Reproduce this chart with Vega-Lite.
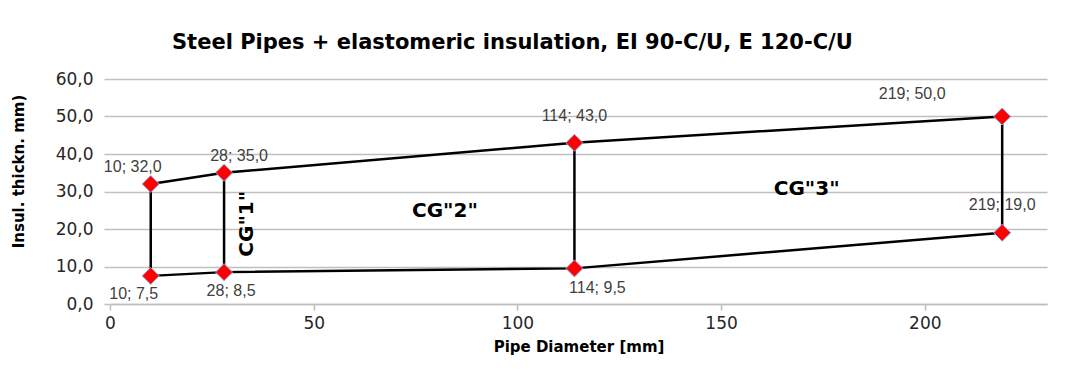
{
  "$schema": "https://vega.github.io/schema/vega-lite/v6.json",
  "width": 937,
  "height": 225,
  "autosize": {"type": "none"},
  "padding": {"left": 110, "top": 79, "right": 25, "bottom": 69},
  "background": "white",
  "title": {
    "text": "Steel Pipes + elastomeric insulation, EI 90-C/U, E 120-C/U",
    "anchor": "start",
    "frame": "group",
    "dx": 62,
    "offset": 17,
    "font": "DejaVu Sans",
    "fontSize": 21,
    "fontWeight": "bold",
    "color": "#000000"
  },
  "datasets": {
    "segs": [
      {"x": 10, "y": 32, "seg": "upper", "o": 1},
      {"x": 28, "y": 35, "seg": "upper", "o": 2},
      {"x": 114, "y": 43, "seg": "upper", "o": 3},
      {"x": 219, "y": 50, "seg": "upper", "o": 4},
      {"x": 10, "y": 7.5, "seg": "lower", "o": 1},
      {"x": 28, "y": 8.5, "seg": "lower", "o": 2},
      {"x": 114, "y": 9.5, "seg": "lower", "o": 3},
      {"x": 219, "y": 19, "seg": "lower", "o": 4},
      {"x": 10, "y": 7.5, "seg": "v10", "o": 1},
      {"x": 10, "y": 32, "seg": "v10", "o": 2},
      {"x": 28, "y": 8.5, "seg": "v28", "o": 1},
      {"x": 28, "y": 35, "seg": "v28", "o": 2},
      {"x": 114, "y": 9.5, "seg": "v114", "o": 1},
      {"x": 114, "y": 43, "seg": "v114", "o": 2},
      {"x": 219, "y": 19, "seg": "v219", "o": 1},
      {"x": 219, "y": 50, "seg": "v219", "o": 2}
    ],
    "pts": [
      {"x": 10, "y": 32, "lbl": "10; 32,0"},
      {"x": 28, "y": 35, "lbl": "28; 35,0"},
      {"x": 114, "y": 43, "lbl": "114; 43,0"},
      {"x": 219, "y": 50, "lbl": "219; 50,0"},
      {"x": 10, "y": 7.5, "lbl": "10; 7,5"},
      {"x": 28, "y": 8.5, "lbl": "28; 8,5"},
      {"x": 114, "y": 9.5, "lbl": "114; 9,5"},
      {"x": 219, "y": 19, "lbl": "219; 19,0"}
    ],
    "ann": [
      {"x": 33.6, "y": 21.4, "t": "CG\"1\""},
      {"x": 82.2, "y": 24.9, "t": "CG\"2\""},
      {"x": 171, "y": 30.7, "t": "CG\"3\""}
    ]
  },
  "encoding": {
    "x": {
      "field": "x",
      "type": "quantitative",
      "scale": {"domain": [0, 230], "nice": false, "zero": false},
      "axis": {
        "title": "Pipe Diameter [mm]",
        "values": [0, 50, 100, 150, 200],
        "grid": false,
        "domain": true,
        "domainColor": "#bfbfbf",
        "domainWidth": 1.5,
        "ticks": true,
        "tickColor": "#bfbfbf",
        "tickWidth": 1.5,
        "tickSize": 6,
        "labelFlush": false,
        "labelFont": "DejaVu Sans",
        "labelFontSize": 17,
        "labelColor": "#262626",
        "labelPadding": 5,
        "titleFont": "DejaVu Sans",
        "titleFontSize": 15,
        "titleFontWeight": "bold",
        "titleColor": "#000000",
        "titleBaseline": "middle",
        "titleY": 42
      }
    },
    "y": {
      "field": "y",
      "type": "quantitative",
      "scale": {"domain": [0, 60], "nice": false},
      "axis": {
        "title": "Insul. thickn. mm)",
        "values": [0, 10, 20, 30, 40, 50, 60],
        "labelExpr": "replace(format(datum.value, '.1f'), '.', ',')",
        "grid": true,
        "gridColor": "#bfbfbf",
        "gridWidth": 1.5,
        "domain": false,
        "ticks": true,
        "tickColor": "#bfbfbf",
        "tickWidth": 1.5,
        "tickSize": 6,
        "labelFlush": false,
        "labelFont": "DejaVu Sans",
        "labelFontSize": 17,
        "labelColor": "#262626",
        "labelPadding": 11,
        "titleFont": "DejaVu Sans",
        "titleFontSize": 15,
        "titleFontWeight": "bold",
        "titleColor": "#000000",
        "titleBaseline": "middle",
        "titleX": -92,
        "titleY": 92
      }
    }
  },
  "layer": [
    {
      "data": {"name": "segs"},
      "mark": {"type": "line", "color": "#000000", "strokeWidth": 2.5},
      "encoding": {
        "detail": {"field": "seg"},
        "order": {"field": "o", "type": "quantitative"}
      }
    },
    {
      "data": {"name": "pts"},
      "mark": {"type": "point", "shape": "diamond", "size": 289, "filled": true, "fill": "#ff0000", "stroke": "#8faadc", "strokeWidth": 1, "opacity": 1}
    },
    {
      "data": {"name": "pts"},
      "transform": [{"filter": "datum.lbl == '10; 32,0'"}],
      "mark": {"type": "text", "font": "Liberation Sans", "fontSize": 16, "color": "#404040", "dx": -18, "dy": -17},
      "encoding": {"text": {"field": "lbl"}}
    },
    {
      "data": {"name": "pts"},
      "transform": [{"filter": "datum.lbl == '28; 35,0'"}],
      "mark": {"type": "text", "font": "Liberation Sans", "fontSize": 16, "color": "#404040", "dx": 15, "dy": -17},
      "encoding": {"text": {"field": "lbl"}}
    },
    {
      "data": {"name": "pts"},
      "transform": [{"filter": "datum.lbl == '114; 43,0'"}],
      "mark": {"type": "text", "font": "Liberation Sans", "fontSize": 16, "color": "#404040", "dx": 0, "dy": -27},
      "encoding": {"text": {"field": "lbl"}}
    },
    {
      "data": {"name": "pts"},
      "transform": [{"filter": "datum.lbl == '219; 50,0'"}],
      "mark": {"type": "text", "font": "Liberation Sans", "fontSize": 16, "color": "#404040", "dx": -90, "dy": -23},
      "encoding": {"text": {"field": "lbl"}}
    },
    {
      "data": {"name": "pts"},
      "transform": [{"filter": "datum.lbl == '10; 7,5'"}],
      "mark": {"type": "text", "font": "Liberation Sans", "fontSize": 16, "color": "#404040", "dx": -17, "dy": 18},
      "encoding": {"text": {"field": "lbl"}}
    },
    {
      "data": {"name": "pts"},
      "transform": [{"filter": "datum.lbl == '28; 8,5'"}],
      "mark": {"type": "text", "font": "Liberation Sans", "fontSize": 16, "color": "#404040", "dx": 7, "dy": 19},
      "encoding": {"text": {"field": "lbl"}}
    },
    {
      "data": {"name": "pts"},
      "transform": [{"filter": "datum.lbl == '114; 9,5'"}],
      "mark": {"type": "text", "font": "Liberation Sans", "fontSize": 16, "color": "#404040", "dx": 23, "dy": 20},
      "encoding": {"text": {"field": "lbl"}}
    },
    {
      "data": {"name": "pts"},
      "transform": [{"filter": "datum.lbl == '219; 19,0'"}],
      "mark": {"type": "text", "font": "Liberation Sans", "fontSize": 16, "color": "#404040", "dx": 0, "dy": -28},
      "encoding": {"text": {"field": "lbl"}}
    },
    {
      "data": {"name": "ann"},
      "transform": [{"filter": "datum.t != 'CG\"1\"'"}],
      "mark": {"type": "text", "font": "DejaVu Sans", "fontSize": 20, "fontWeight": "bold", "color": "#000000"},
      "encoding": {"text": {"field": "t"}}
    },
    {
      "data": {"name": "ann"},
      "transform": [{"filter": "datum.t == 'CG\"1\"'"}],
      "mark": {"type": "text", "font": "DejaVu Sans", "fontSize": 20, "fontWeight": "bold", "color": "#000000", "angle": 270},
      "encoding": {"text": {"field": "t"}}
    }
  ],
  "config": {
    "view": {"stroke": null}
  }
}
